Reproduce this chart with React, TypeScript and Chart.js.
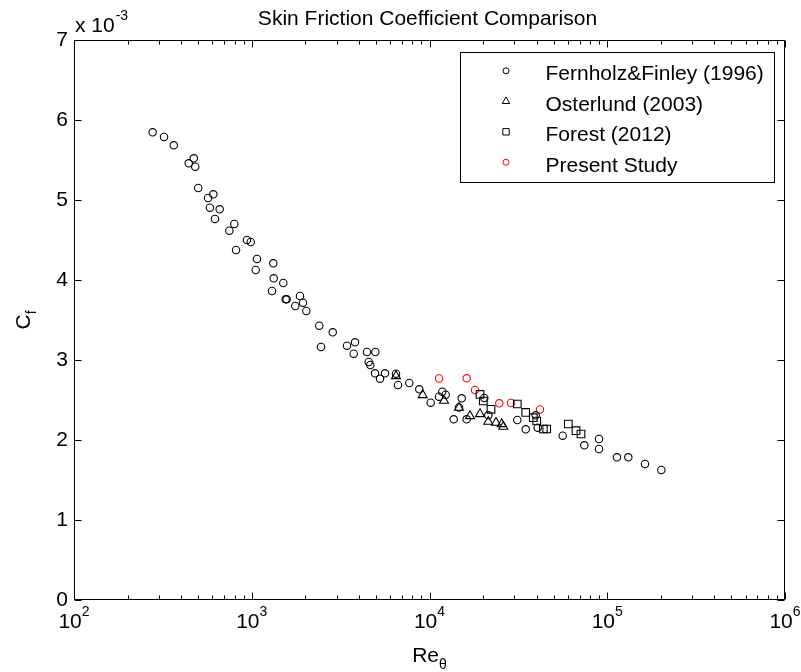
import React, { useEffect, useRef } from 'react';
import { Chart, registerables } from 'chart.js';

Chart.register(...registerables);

// Re_theta values and Cf values (Cf in units of 1e-3)
const reFernholz = [277, 321, 364, 472, 442, 481, 500, 608, 568, 582, 660, 621, 798, 748, 940, 987, 816, 1070, 1322, 1052, 1329, 1505, 1300, 1552, 1572, 1868, 1942, 1758, 2027, 2399, 2854, 2453, 3435, 3809, 3746, 4450, 4957, 4550, 4645, 4938, 5266, 5617, 6479, 6649, 7699, 8762, 10157, 11803, 11310, 12333, 13682, 15176, 14654, 16192, 20339, 21417, 31190, 34775, 39582, 40620, 56155, 74293, 89868, 89868, 113440, 131370, 163100, 201500];
const cfFernholz = [5.846, 5.788, 5.684, 5.521, 5.459, 5.416, 5.15, 5.071, 5.025, 4.904, 4.884, 4.763, 4.70, 4.616, 4.50, 4.475, 4.375, 4.2625, 4.209, 4.125, 4.021, 3.9625, 3.8625, 3.759, 3.759, 3.80, 3.716, 3.675, 3.6125, 3.429, 3.346, 3.1625, 3.179, 3.221, 3.079, 3.10, 3.10, 2.975, 2.9375, 2.834, 2.766, 2.834, 2.829, 2.6875, 2.7125, 2.634, 2.466, 2.604, 2.541, 2.566, 2.259, 2.521, 2.406, 2.259, 2.525, 2.309, 2.25, 2.134, 2.309, 2.154, 2.054, 1.934, 2.0125, 1.8875, 1.784, 1.784, 1.70, 1.625];

const reOsterlund = [6479, 9157, 12066, 14654, 16896, 19238, 21417, 23664, 25482, 26015];
const cfOsterlund = [2.80, 2.5625, 2.491, 2.404, 2.30, 2.325, 2.229, 2.216, 2.20, 2.166];

const reForest = [19238, 20080, 22182, 31190, 34775, 38370, 40100, 43690, 45640, 60390, 66720, 71170];
const cfForest = [2.569, 2.4875, 2.384, 2.45, 2.344, 2.279, 2.2375, 2.1375, 2.1375, 2.20, 2.116, 2.075];

const rePresent = [11310, 16192, 18030, 24700, 28730, 41840];
const cfPresent = [2.769, 2.771, 2.625, 2.459, 2.4625, 2.381];

const seriesNames = ['Fernholz&Finley (1996)', 'Osterlund (2003)', 'Forest (2012)', 'Present Study'];
const yTicks = [0, 1, 2, 3, 4, 5, 6, 7];
const xDecades = [2, 3, 4, 5, 6];
const titleText = 'Skin Friction Coefficient Comparison';

const FONT = '"Liberation Sans", Arial, Helvetica, sans-serif';
const FS = 21;
const SUB = 14;

function toPts(xs: number[], ys: number[]) {
  return xs.map((x, i) => ({ x, y: ys[i] }));
}

const decor = {
  id: 'decor',
  afterDraw(chart: any) {
    const ctx = chart.ctx as CanvasRenderingContext2D;
    const xs = chart.scales.x;
    const ys = chart.scales.y;
    const { left, right, top, bottom } = chart.chartArea;
    ctx.save();
    ctx.strokeStyle = '#000';
    ctx.fillStyle = '#000';
    ctx.lineWidth = 1;
    // box
    const L = Math.round(left) + 0.5, R = Math.round(right) - 0.5;
    const T = Math.round(top) + 0.5, B = Math.round(bottom) - 0.5;
    ctx.beginPath();
    ctx.rect(L, T, R - L, B - T);
    ctx.stroke();
    // y ticks
    ctx.beginPath();
    yTicks.forEach((v) => {
      const py = Math.round(ys.getPixelForValue(v)) + 0.5;
      ctx.moveTo(L, py); ctx.lineTo(L + 7, py);
      ctx.moveTo(R, py); ctx.lineTo(R - 7, py);
    });
    // x ticks
    for (let e = 2; e <= 6; e++) {
      const px = Math.round(xs.getPixelForValue(Math.pow(10, e))) + 0.5;
      ctx.moveTo(px, B); ctx.lineTo(px, B - 7);
      ctx.moveTo(px, T); ctx.lineTo(px, T + 7);
      if (e < 6) {
        for (let m = 2; m <= 9; m++) {
          const mx = Math.round(xs.getPixelForValue(m * Math.pow(10, e))) + 0.5;
          ctx.moveTo(mx, B); ctx.lineTo(mx, B - 4);
          ctx.moveTo(mx, T); ctx.lineTo(mx, T + 4);
        }
      }
    }
    ctx.stroke();

    // x tick labels 10^e
    ctx.textBaseline = 'alphabetic';
    ctx.textAlign = 'left';
    xDecades.forEach((e) => {
      const px = xs.getPixelForValue(Math.pow(10, e));
      ctx.font = `${FS}px ${FONT}`;
      const w1 = ctx.measureText('10').width;
      ctx.font = `${SUB}px ${FONT}`;
      const w2 = ctx.measureText(String(e)).width;
      const x0 = px - (w1 + w2) / 2;
      ctx.font = `${FS}px ${FONT}`;
      ctx.fillText('10', x0, 628);
      ctx.font = `${SUB}px ${FONT}`;
      ctx.fillText(String(e), x0 + w1, 616);
    });

    // x axis title Re_theta
    {
      ctx.font = `${FS}px ${FONT}`;
      const w1 = ctx.measureText('Re').width;
      ctx.font = `${SUB}px ${FONT}`;
      const w2 = ctx.measureText('θ').width;
      const cx = (left + right) / 2;
      const x0 = cx - (w1 + w2) / 2;
      ctx.font = `${FS}px ${FONT}`;
      ctx.fillText('Re', x0, 662);
      ctx.font = `${SUB}px ${FONT}`;
      ctx.fillText('θ', x0 + w1, 669);
    }

    // y axis title C_f
    {
      ctx.save();
      ctx.translate(30, (top + bottom) / 2);
      ctx.rotate(-Math.PI / 2);
      ctx.font = `${FS}px ${FONT}`;
      const w1 = ctx.measureText('C').width;
      ctx.font = `${SUB}px ${FONT}`;
      const w2 = ctx.measureText('f').width;
      const x0 = -(w1 + w2) / 2;
      ctx.font = `${FS}px ${FONT}`;
      ctx.fillText('C', x0, 0);
      ctx.font = `${SUB}px ${FONT}`;
      ctx.fillText('f', x0 + w1, 6);
      ctx.restore();
    }

    // exponent label x 10^-3
    {
      ctx.font = `${FS}px ${FONT}`;
      const w1 = ctx.measureText('x 10').width;
      ctx.fillText('x 10', 75, 32);
      ctx.font = `${SUB}px ${FONT}`;
      ctx.fillText('-3', 75 + w1 + 1, 20);
    }

    // title
    ctx.font = `${FS}px ${FONT}`;
    ctx.textAlign = 'center';
    ctx.fillText(titleText, (left + right) / 2 - 2, 25);
    ctx.textAlign = 'left';

    // legend
    const bx = 460.5, by = 52.5, bw = 314, bh = 130;
    ctx.fillStyle = '#fff';
    ctx.fillRect(bx, by, bw, bh);
    ctx.strokeStyle = '#000';
    ctx.strokeRect(bx, by, bw, bh);
    chart.data.datasets.forEach((ds: any, i: number) => {
      const base = 80.3 + i * 30.5;
      const my = base - 9.5;
      ctx.lineWidth = 1;
      ctx.strokeStyle = ds.borderColor;
      ctx.beginPath();
      const mx = 506;
      const st = ds.pointStyle;
      if (st === 'circle') {
        ctx.arc(mx, my, 3, 0, Math.PI * 2);
      } else if (st === 'triangle') {
        const r = 4.4;
        ctx.moveTo(mx, my - r);
        ctx.lineTo(mx + r * 0.866, my + r * 0.5);
        ctx.lineTo(mx - r * 0.866, my + r * 0.5);
        ctx.closePath();
      } else {
        ctx.rect(mx - 3.2, my - 3.2, 6.4, 6.4);
      }
      ctx.stroke();
      ctx.fillStyle = '#000';
      ctx.font = `${FS}px ${FONT}`;
      ctx.fillText(ds.label, 545.5, base);
    });
    ctx.restore();
  },
};

export default function App() {
  const ref = useRef<HTMLCanvasElement | null>(null);
  useEffect(() => {
    if (!ref.current) return;
    const chart = new Chart(ref.current, {
      type: 'scatter',
      data: {
        datasets: [
          {
            label: seriesNames[0],
            data: toPts(reFernholz, cfFernholz),
            pointStyle: 'circle',
            pointRadius: 3.7,
            borderColor: '#000',
            backgroundColor: 'rgba(0,0,0,0)',
            borderWidth: 1.1,
          },
          {
            label: seriesNames[1],
            data: toPts(reOsterlund, cfOsterlund),
            pointStyle: 'triangle',
            pointRadius: 5.2,
            borderColor: '#000',
            backgroundColor: 'rgba(0,0,0,0)',
            borderWidth: 1.1,
          },
          {
            label: seriesNames[2],
            data: toPts(reForest, cfForest),
            pointStyle: 'rect',
            pointRadius: 5.4,
            borderColor: '#000',
            backgroundColor: 'rgba(0,0,0,0)',
            borderWidth: 1.1,
          },
          {
            label: seriesNames[3],
            data: toPts(rePresent, cfPresent),
            pointStyle: 'circle',
            pointRadius: 3.7,
            borderColor: '#ff0000',
            backgroundColor: 'rgba(0,0,0,0)',
            borderWidth: 1.1,
          },
        ],
      },
      options: {
        responsive: false,
        animation: false,
        devicePixelRatio: 1,
        layout: { padding: { left: 0, right: 16, top: 40, bottom: 0 } },
        plugins: {
          legend: { display: false },
          tooltip: { enabled: false },
          title: { display: false },
        },
        scales: {
          x: {
            type: 'logarithmic',
            min: 100,
            max: 1000000,
            grid: { display: false, drawTicks: false },
            border: { display: false },
            ticks: { display: false },
            afterFit: (s: any) => { s.height = 72; },
          },
          y: {
            type: 'linear',
            min: 0,
            max: 7,
            grid: { display: false, drawTicks: false },
            border: { display: false },
            ticks: {
              stepSize: 1,
              padding: 6,
              color: '#000',
              font: { family: FONT, size: FS },
              callback: (v: any) => String(v),
            },
            afterFit: (s: any) => { s.width = 74; },
          },
        },
      },
      plugins: [decor],
    });
    return () => chart.destroy();
  }, []);
  return (
    <div style={{ position: 'fixed', left: 0, top: 0, width: 801, height: 672, background: '#fff' }}>
      <canvas ref={ref} width={801} height={672} style={{ display: 'block', width: 801, height: 672 }} />
    </div>
  );
}
